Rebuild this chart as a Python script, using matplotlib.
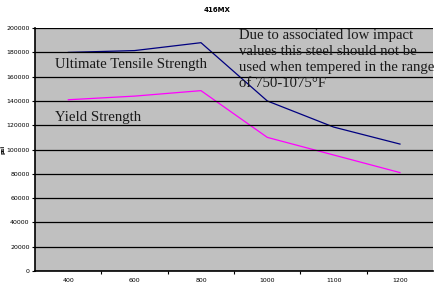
""" I plot the 416MX tempering curve.
"""

import matplotlib
matplotlib.use('Agg')
import matplotlib.pyplot as plt


temper_temps = ['400', '600', '800', '1000', '1100', '1200']
tensile_psi = [180000, 181500, 188000, 140000, 118500, 104500]
yield_psi = [141000, 144000, 148500, 110000, 95500, 81000]
y_ticks = [0, 20000, 40000, 60000, 80000, 100000, 120000, 140000,
           160000, 180000, 200000]


def create_graph(filename: str):
    """ I create the graph and save it. """
    fig = plt.figure(figsize=(4.34, 2.84), dpi=100)
    ax = fig.add_axes([0.081, 0.046, 0.917, 0.855])
    ax.set_facecolor('#c0c0c0')

    xs = list(range(len(temper_temps)))
    ax.plot(xs, tensile_psi, color='#000080', linewidth=0.9)
    ax.plot(xs, yield_psi, color='#ff00ff', linewidth=0.9)

    ax.set_xlim(-0.5, len(temper_temps) - 0.5)
    ax.set_ylim(0, 200000)
    ax.set_yticks(y_ticks)
    ax.set_yticklabels([str(v) for v in y_ticks], fontsize=4.5)
    ax.set_xticks(xs)
    ax.set_xticklabels(temper_temps, fontsize=4.5)
    ax.set_xticks([x + 0.5 for x in xs[:-1]], minor=True)
    ax.tick_params(axis='x', which='major', length=0, pad=5)
    ax.tick_params(axis='x', which='minor', length=2, width=0.8,
                   direction='out')
    ax.tick_params(axis='y', length=2.5, width=0.8, pad=1.5)
    ax.yaxis.grid(True, color='black', linewidth=0.9)
    ax.set_axisbelow(False)
    for side in ('top', 'right'):
        ax.spines[side].set_visible(False)
    ax.spines['left'].set_linewidth(1.2)
    ax.spines['bottom'].set_linewidth(1.2)

    ax.set_ylabel('psi', fontsize=4, fontweight='bold', labelpad=0.5)
    fig.suptitle('416MX', fontsize=5, fontweight='bold', y=0.975)

    serif = 'Liberation Serif'
    ax.text(-0.2, 170000, 'Ultimate Tensile Strength', family=serif,
            fontsize=10.6, color='#1a1a1a', va='center')
    ax.text(-0.2, 126000, 'Yield Strength', family=serif,
            fontsize=10.6, color='#1a1a1a', va='center')
    ax.text(2.58, 199500,
            'Due to associated low impact\n'
            'values this steel should not be\n'
            'used when tempered in the range\n'
            'of 750-1075\u00b0F',
            family=serif, fontsize=10.6, color='#1a1a1a', va='top',
            linespacing=1.32)

    fig.savefig(filename, dpi=100)


if __name__ == '__main__':
    create_graph('out.png')
